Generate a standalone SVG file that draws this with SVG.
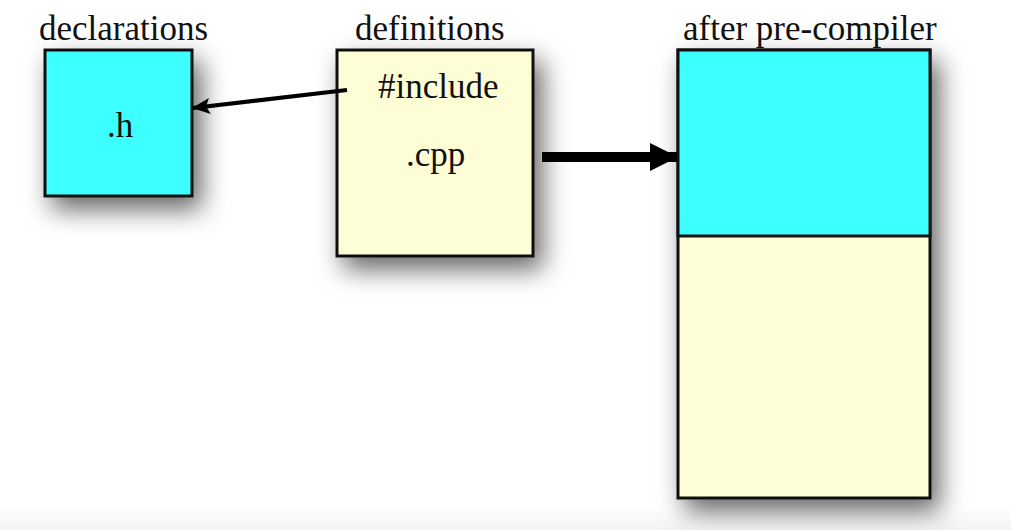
<svg xmlns="http://www.w3.org/2000/svg" width="1011" height="530" viewBox="0 0 1011 530">
  <style>
    .lbl { font-family: "Liberation Serif", "Times New Roman", serif; font-size: 35px; fill: #111; }
    .box { stroke: #111; stroke-width: 3; }
    .cyan { fill: #3effff; }
    .yellow { fill: #fefed6; }
    .conn { stroke: #000; fill: none; }
  </style>
  <defs>
    <filter id="shadow" x="-40%" y="-40%" width="180%" height="180%">
      <feDropShadow dx="8" dy="12" stdDeviation="13" flood-color="#000" flood-opacity="0.6"/>
    </filter>
    <marker id="headThin" viewBox="0 0 18 16" refX="17" refY="8" markerWidth="18" markerHeight="16" markerUnits="userSpaceOnUse" orient="auto">
      <path d="M0,0 L18,8 L0,16 L4,8 Z" fill="#000"/>
    </marker>
    <marker id="headThick" viewBox="0 0 28 28" refX="27" refY="14" markerWidth="28" markerHeight="28" markerUnits="userSpaceOnUse" orient="auto">
      <path d="M0,0 L28,14 L0,28 Z" fill="#000"/>
    </marker>
    <linearGradient id="bottomFade" x1="0" y1="0" x2="0" y2="1">
      <stop offset="0" stop-color="#ffffff"/>
      <stop offset="1" stop-color="#f4f4f4"/>
    </linearGradient>
  </defs>
  <rect x="0" y="0" width="1011" height="530" fill="#ffffff"/>
  <rect x="0" y="505" width="1011" height="25" fill="url(#bottomFade)"/>

  <g id="declarations">
    <text class="lbl" x="39" y="40">declarations</text>
    <rect class="box cyan" x="45" y="50" width="147" height="146" filter="url(#shadow)"/>
    <text class="lbl" x="107" y="137">.h</text>
  </g>

  <g id="definitions">
    <text class="lbl" x="355" y="40">definitions</text>
    <rect class="box yellow" x="337" y="50" width="196" height="206" filter="url(#shadow)"/>
    <text class="lbl" x="378" y="98">#include</text>
    <text class="lbl" x="406" y="166">.cpp</text>
  </g>

  <g id="after-pre-compiler">
    <text class="lbl" x="683" y="40">after pre-compiler</text>
    <g filter="url(#shadow)">
      <rect class="box yellow" x="678" y="50" width="252" height="448"/>
    </g>
    <rect class="box cyan" x="678" y="50" width="252" height="186"/>
  </g>

  <g id="connectors">
    <line class="conn" x1="347" y1="90" x2="193" y2="108" stroke-width="4" marker-end="url(#headThin)"/>
    <line class="conn" x1="542" y1="157" x2="677" y2="157" stroke-width="10" marker-end="url(#headThick)"/>
  </g>
</svg>
